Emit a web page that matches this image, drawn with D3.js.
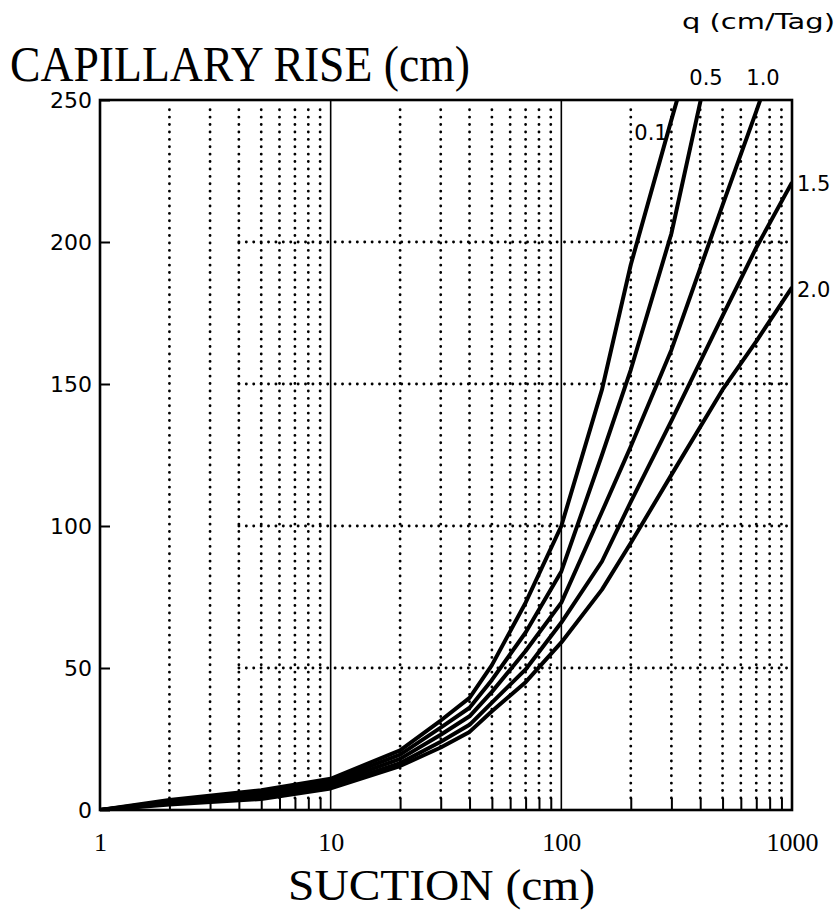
<!DOCTYPE html>
<html lang="en">
<head>
<meta charset="utf-8">
<style>
    body { margin: 0; background: #fff; }
    svg { display: block; }
</style>
</head>
<body>
<div class="chart"></div>
<script src="https://d3js.org/d3.v7.min.js"></script>
<script>
    // suction (cm) and capillary rise (cm) for each flux q (cm/Tag)
    const suction = [1, 2, 5, 10, 20, 30, 40, 50, 70, 100, 150, 200, 300, 500, 700, 1000];
    const rise01 = [0, 3.5, 7, 11, 21, 31.5, 39.5, 51, 73, 100, 148, 192, 243, 306, null, null];
    const rise05 = [0, 3.1, 6.1, 10.1, 19.5, 29, 36, 45.8, 62.5, 84, 125, 155, 203, 285, null, null];
    const rise10 = [0, 2.7, 5.3, 9.2, 18, 26.5, 33, 41.6, 56, 73, 105, 128, 162, 213, 246, 282];
    const rise15 = [0, 2.3, 4.6, 8.3, 16.5, 24, 30, 37.8, 49.5, 66, 87.5, 108.5, 137, 174, 198, 221];
    const rise20 = [0, 1.9, 3.9, 7.6, 15.5, 22, 27.5, 34.8, 45, 59, 77.6, 94, 118, 148, 165, 184];
    const qLabels = ['0.1', '0.5', '1.0', '1.5', '2.0'];

    const yTicks = [0, 50, 100, 150, 200, 250];
    const xTicks = [1, 10, 100, 1000];
    const yGrid = [50, 100, 150, 200];

    const width = 838, height = 912;
    const pLeft = 100, pRight = 792, pTop = 100, pBottom = 810;

    const svg = d3.select('.chart').append('svg')
        .attr('width', width).attr('height', height)
        .style('background', '#fff');

    const x = d3.scaleLog().domain([1, 1000]).range([pLeft, pRight]);
    const y = d3.scaleLinear().domain([0, 250]).range([pBottom, pTop]);

    const minor = x.ticks().filter(d => !xTicks.includes(d));

    // dotted vertical grid
    svg.append('g').selectAll('line')
        .data(minor)
        .enter().append('line')
        .attr('x1', d => x(d)).attr('x2', d => x(d))
        .attr('y1', y(0) - 12).attr('y2', y(250) + 6)
        .attr('stroke', '#000').attr('stroke-width', 2.8)
        .attr('stroke-linecap', 'round')
        .attr('stroke-dasharray', '0.1,7.3');

    // dotted horizontal grid, starts at suction 4
    svg.append('g').selectAll('line')
        .data(yGrid)
        .enter().append('line')
        .attr('x1', x(4)).attr('x2', x(1000))
        .attr('y1', d => y(d)).attr('y2', d => y(d))
        .attr('stroke', '#000').attr('stroke-width', 2.8)
        .attr('stroke-linecap', 'round')
        .attr('stroke-dasharray', '0.1,7.3');

    // solid decade lines
    svg.append('g').selectAll('line')
        .data([10, 100])
        .enter().append('line')
        .attr('x1', d => x(d)).attr('x2', d => x(d))
        .attr('y1', y(0)).attr('y2', y(250))
        .attr('stroke', '#000').attr('stroke-width', 1.6);

    // minor ticks on the bottom axis
    svg.append('g')
        .attr('transform', `translate(0,${pBottom})`)
        .call(d3.axisBottom(x).tickValues(minor).tickFormat('').tickSizeInner(-12).tickSizeOuter(0))
        .call(g => g.select('.domain').remove())
        .call(g => g.selectAll('line').attr('stroke-width', 2));

    // decade labels
    svg.append('g')
        .attr('transform', `translate(0,${pBottom})`)
        .call(d3.axisBottom(x).tickValues(xTicks).tickFormat(d3.format('d')).tickSizeInner(0).tickSizeOuter(0).tickPadding(23))
        .call(g => g.select('.domain').remove())
        .call(g => g.selectAll('text')
            .style('font-family', "'Liberation Serif', 'DejaVu Serif', serif")
            .style('font-size', '26px').attr('fill', '#000'));

    // y axis
    svg.append('g')
        .attr('transform', `translate(${pLeft},0)`)
        .call(d3.axisLeft(y).tickValues(yTicks).tickSizeInner(-10).tickSizeOuter(0).tickPadding(8))
        .call(g => g.select('.domain').remove())
        .call(g => g.selectAll('line').attr('stroke-width', 2))
        .call(g => g.selectAll('text')
            .style('font-family', "'DejaVu Sans', sans-serif")
            .style('font-size', '22px').attr('fill', '#000'));

    // frame
    svg.append('rect')
        .attr('x', pLeft).attr('y', pTop)
        .attr('width', pRight - pLeft).attr('height', pBottom - pTop)
        .attr('fill', 'none').attr('stroke', '#000').attr('stroke-width', 2.6);

    // curves
    svg.append('clipPath').attr('id', 'plot')
        .append('rect').attr('x', pLeft).attr('y', pTop)
        .attr('width', pRight - pLeft).attr('height', pBottom - pTop);

    const series = [rise01, rise05, rise10, rise15, rise20];
    const line = d3.line()
        .defined(d => d[1] !== null)
        .x(d => x(d[0]))
        .y(d => y(d[1]));

    svg.append('g').attr('clip-path', 'url(#plot)')
        .selectAll('path')
        .data(series)
        .enter().append('path')
        .attr('d', s => line(suction.map((v, i) => [v, s[i]])))
        .attr('fill', 'none').attr('stroke', '#000')
        .attr('stroke-width', 4).attr('stroke-linejoin', 'round');

    // curve labels
    const lab = svg.append('g')
        .style('font-family', "'DejaVu Sans', sans-serif")
        .style('font-size', '21px').attr('fill', '#000');
    lab.append('text').attr('x', 651).attr('y', 140).attr('text-anchor', 'middle').text(qLabels[0]);
    lab.append('text').attr('x', 706).attr('y', 85).attr('text-anchor', 'middle').text(qLabels[1]);
    lab.append('text').attr('x', 763).attr('y', 85).attr('text-anchor', 'middle').text(qLabels[2]);
    lab.append('text').attr('x', x(1000) + 5).attr('y', y(rise15[15]) + 9).text(qLabels[3]);
    lab.append('text').attr('x', x(1000) + 5).attr('y', y(rise20[15]) + 10).text(qLabels[4]);
    lab.append('text').attr('x', 682).attr('y', 29)
        .attr('textLength', 153).attr('lengthAdjust', 'spacingAndGlyphs')
        .text('q (cm/Tag)');

    // titles
    svg.append('text')
        .attr('x', 10).attr('y', 81)
        .attr('textLength', 460).attr('lengthAdjust', 'spacingAndGlyphs')
        .style('font-family', "'Liberation Serif', serif")
        .style('font-size', '50px')
        .text('CAPILLARY RISE (cm)');

    svg.append('text')
        .attr('x', 288).attr('y', 900)
        .attr('textLength', 307).attr('lengthAdjust', 'spacingAndGlyphs')
        .style('font-family', "'Liberation Serif', serif")
        .style('font-size', '44px')
        .text('SUCTION (cm)');
</script>
</body>
</html>
